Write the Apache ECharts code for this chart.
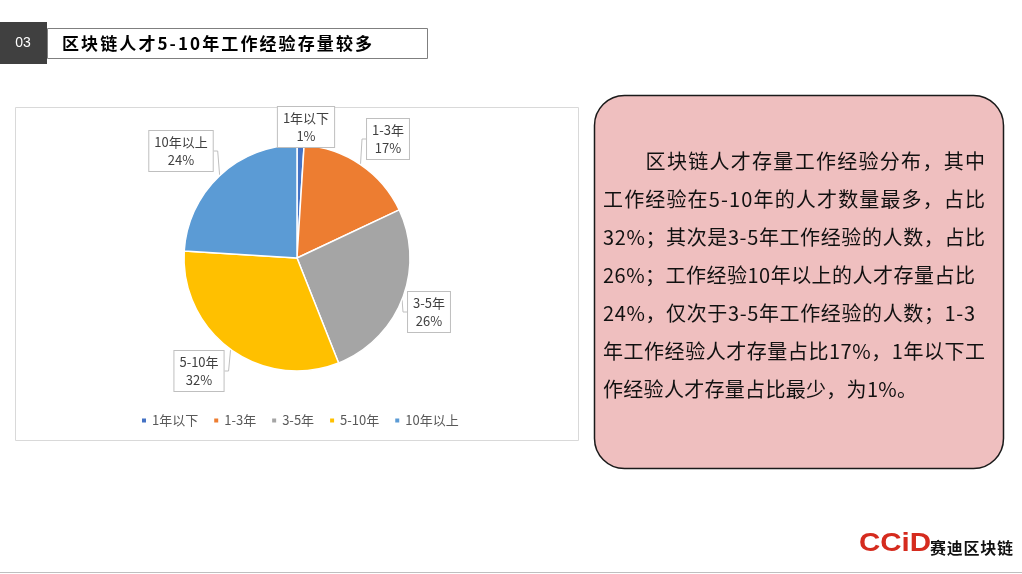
<!DOCTYPE html>
<html><head><meta charset="utf-8">
<script src="https://cdn.jsdelivr.net/npm/echarts@6/dist/echarts.min.js"></script>
<style>html,body{margin:0;padding:0;background:#fff;}#c{width:1022px;height:574px;}</style>
</head><body><div id="c"></div>
<script>
const categories = ['1年以下', '1-3年', '3-5年', '5-10年', '10年以上'];
const shares = [1, 17, 26, 32, 24];
const colors = ['#4472C4', '#ED7D31', '#A5A5A5', '#FFC000', '#5B9BD5'];
const titleText = '区块链人才5-10年工作经验存量较多';
const bodyLines = [
  '\u3000\u3000区块链人才存量工作经验分布，其中',
  '工作经验在5-10年的人才数量最多，占比',
  '32%；其次是3-5年工作经验的人数，占比',
  '26%；工作经验10年以上的人才存量占比',
  '24%，仅次于3-5年工作经验的人数；1-3',
  '年工作经验人才存量占比17%，1年以下工',
  '作经验人才存量占比最少，为1%。'
];

const chart = echarts.init(document.getElementById('c'));
const CJK = '"Noto Sans CJK SC", "Microsoft YaHei", sans-serif';

const mctx = document.createElement('canvas').getContext('2d');
// lay a string out char by char so that it spans the given width (justified text)
function spreadText(str, x, y, width, font, fill, gapIfFree) {
  mctx.font = font;
  const chars = Array.from(str);
  const ws = chars.map(c => mctx.measureText(c).width);
  const natural = ws.reduce((a,b)=>a+b,0);
  const gap = width ? (width - natural) / (chars.length - 1) : (gapIfFree || 0);
  const children = [];
  let cx = x;
  chars.forEach((c,i)=>{
    if (c.trim() && c !== '\u3000') children.push({type:'text', style:{x:cx,y:y,text:c,fill:fill,font:font,verticalAlign:'middle'}});
    cx += ws[i] + gap;
  });
  return {type:'group', children:children};
}

const CX = 297, CY = 258, R = 113;
const labelOffsets = [[9,-131],[91,-119],[132,54],[-98,113],[-116,-107]];

const graphics = [
  {type:'rect', shape:{x:0,y:22,width:47,height:42}, style:{fill:'#404040'}},
  {type:'text', style:{x:23,y:43,text:'03',fill:'#fff',font:'14px "Liberation Sans", sans-serif',align:'center',verticalAlign:'middle'}},
  {type:'rect', shape:{x:47.5,y:28.5,width:380,height:30}, style:{fill:'#fff',stroke:'#7f7f7f',lineWidth:1}},
  spreadText(titleText, 62, 44, 310, 'bold 17px '+CJK, '#000'),
  {type:'rect', shape:{x:15.5,y:107.5,width:563,height:333}, style:{fill:'none',stroke:'#d9d9d9',lineWidth:1}, z:-1},
  {type:'rect', shape:{x:594.5,y:95.5,width:409,height:373,r:30}, style:{fill:'#EFBFBF',stroke:'#1a1a1a',lineWidth:1.5}},
  {type:'text', x:859, y:544, scaleX:1.18, style:{x:0,y:0,text:'CCiD',fill:'#D52B1E',font:'bold 25px "Liberation Sans", Arial, sans-serif',verticalAlign:'middle'}},
  spreadText('赛迪区块链', 930, 548, 83, 'bold 16px '+CJK, '#111'),
  {type:'line', shape:{x1:0,y1:572.5,x2:1022,y2:572.5}, style:{stroke:'#bfbfbf',lineWidth:1}}
];
const lineWidths = [382, 382, 382, 372, 372, 382, null];
bodyLines.forEach((t,i)=>{
  graphics.push(spreadText(t, 603, 161+i*38, lineWidths[i], '20px '+CJK, '#111', 0.3));
});

chart.setOption({
  animation:false,
  color: colors,
  graphic: graphics,
  legend:{
    data: categories,
    left: 135, top: 409,
    itemWidth:6, itemHeight:6, itemGap:14,
    icon:'rect',
    textStyle:{color:'#595959',fontSize:13,fontFamily:CJK}
  },
  series:[{
    type:'pie',
    center:[CX,CY],
    radius:R,
    startAngle:90,
    clockwise:true,
    data: categories.map((n,i)=>({name:n,value:shares[i]})),
    itemStyle:{borderColor:'#fff',borderWidth:1.5},
    label:{
      show:true, position:'outside',
      formatter:'{b}\n{c}%',
      color:'#404040', fontSize:13, lineHeight:18, fontFamily:CJK,
      backgroundColor:'#fff', borderColor:'#bfbfbf', borderWidth:1, padding:[2,5]
    },
    labelLine:{show:true,length:6,length2:4,lineStyle:{color:'#bfbfbf'}},
    labelLayout: function(p){
      const o = labelOffsets[p.dataIndex];
      return {x: CX + o[0], y: CY + o[1], align:'center', verticalAlign:'middle'};
    }
  }]
});
</script></body></html>
